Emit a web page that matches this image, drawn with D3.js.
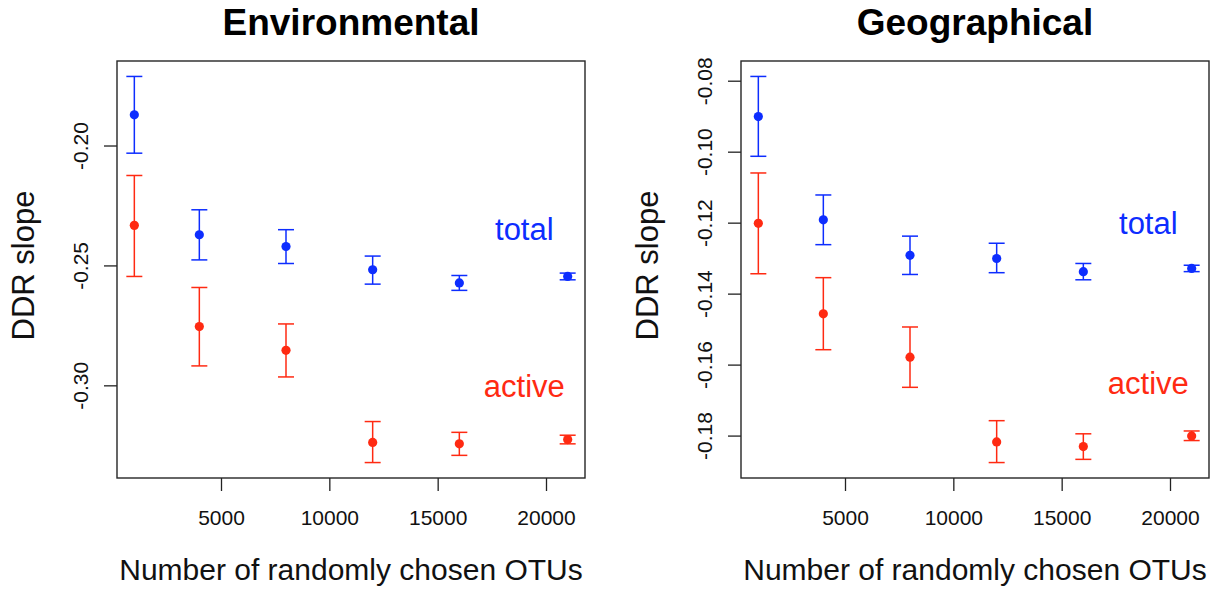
<!DOCTYPE html>
<html>
<head>
<meta charset="utf-8">
<script src="https://cdn.jsdelivr.net/npm/d3@7"></script>
<style>
  body { margin: 0; background: #fff; }
  svg { font-family: "Liberation Sans", Arial, sans-serif; }
</style>
</head>
<body>
<div id="chart"></div>
<script>
// Number of OTUs drawn at random (shared x values)
const otus = [1000, 4000, 8000, 12000, 16000, 21000];

// Environmental panel: mean slope and error bar ends
const envTotalMean = [-0.1872, -0.2372, -0.2421, -0.2518, -0.2573, -0.2546];
const envTotalLow  = [-0.2032, -0.2477, -0.2492, -0.2578, -0.2604, -0.2560];
const envTotalHigh = [-0.1712, -0.2268, -0.2351, -0.2461, -0.2542, -0.2532];
const envActiveMean = [-0.2333, -0.2755, -0.2854, -0.3238, -0.3244, -0.3226];
const envActiveLow  = [-0.2546, -0.2919, -0.2965, -0.3322, -0.3292, -0.3244];
const envActiveHigh = [-0.2125, -0.2592, -0.2744, -0.3151, -0.3196, -0.3208];

// Geographical panel
const geoTotalMean = [-0.0901, -0.1192, -0.1292, -0.1301, -0.1338, -0.1329];
const geoTotalLow  = [-0.1013, -0.1262, -0.1346, -0.1341, -0.1361, -0.1338];
const geoTotalHigh = [-0.0788, -0.1122, -0.1238, -0.1258, -0.1315, -0.1320];
const geoActiveMean = [-0.1202, -0.1457, -0.1579, -0.1818, -0.1831, -0.1801];
const geoActiveLow  = [-0.1344, -0.1558, -0.1664, -0.1876, -0.1867, -0.1814];
const geoActiveHigh = [-0.1060, -0.1355, -0.1494, -0.1758, -0.1795, -0.1787];

// Tick labels
const xTicks = [5000, 10000, 15000, 20000];
const envYTicks = [-0.30, -0.25, -0.20];
const geoYTicks = [-0.18, -0.16, -0.14, -0.12, -0.10, -0.08];

const blue = "#0d2dff";
const red = "#ff2a12";

const width = 1218, height = 590;
const svg = d3.select("#chart").append("svg")
    .attr("width", width)
    .attr("height", height);

// R-style axis range: data extent padded by 4% on each side
function padded(lo, hi) {
    const p = (hi - lo) * 0.04;
    return [lo - p, hi + p];
}

function series(mean, low, high, color) {
    return otus.map((x, i) => ({ x: x, m: mean[i], lo: low[i], hi: high[i], color: color }));
}

const panels = [
    {
        title: "Environmental", left: 117, yTicks: envYTicks,
        data: series(envTotalMean, envTotalLow, envTotalHigh, blue)
            .concat(series(envActiveMean, envActiveLow, envActiveHigh, red)),
        labels: [{ text: "total", x: 19000, y: -0.2350, color: blue },
                 { text: "active", x: 19000, y: -0.3003, color: red }]
    },
    {
        title: "Geographical", left: 741, yTicks: geoYTicks,
        data: series(geoTotalMean, geoTotalLow, geoTotalHigh, blue)
            .concat(series(geoActiveMean, geoActiveLow, geoActiveHigh, red)),
        labels: [{ text: "total", x: 19000, y: -0.1200, color: blue },
                 { text: "active", x: 19000, y: -0.1652, color: red }]
    }
];

const plotW = 468, plotTop = 61, plotH = 417;

panels.forEach(function(p) {
    const g = svg.append("g").attr("transform", `translate(${p.left}, ${plotTop})`);

    const xScale = d3.scaleLinear()
        .domain(padded(d3.min(otus), d3.max(otus)))
        .range([0, plotW]);
    const yScale = d3.scaleLinear()
        .domain(padded(d3.min(p.data, d => d.lo), d3.max(p.data, d => d.hi)))
        .range([plotH, 0]);

    // y axis with rotated tick labels
    const yAxis = g.append("g")
        .call(d3.axisLeft(yScale).tickValues(p.yTicks).tickSize(13).tickFormat(d3.format(".2f")));
    yAxis.select(".domain").remove();
    yAxis.selectAll("line").attr("stroke", "#222").attr("stroke-width", 1.3);
    yAxis.selectAll("text")
        .attr("x", null).attr("dy", null)
        .attr("transform", "translate(-29, 0) rotate(-90)")
        .attr("text-anchor", "middle")
        .attr("font-size", 21)
        .attr("font-family", "Liberation Sans, Arial, sans-serif")
        .attr("fill", "#111")
        .text(d => d3.format(".2f")(d).replace("−", "-"));

    // x axis
    const xAxis = g.append("g")
        .attr("transform", `translate(0, ${plotH})`)
        .call(d3.axisBottom(xScale).tickValues(xTicks).tickSize(13).tickFormat(d3.format("d")));
    xAxis.select(".domain").remove();
    xAxis.selectAll("line").attr("stroke", "#222").attr("stroke-width", 1.3);
    xAxis.selectAll("text")
        .attr("y", 47).attr("dy", null)
        .attr("font-size", 21)
        .attr("font-family", "Liberation Sans, Arial, sans-serif")
        .attr("fill", "#111");

    // plot box
    g.append("rect")
        .attr("width", plotW)
        .attr("height", plotH)
        .attr("fill", "none")
        .attr("stroke", "#262626")
        .attr("stroke-width", 1.4);

    // error bars
    const bars = g.selectAll(".bar")
        .data(p.data)
        .enter().append("g")
        .attr("class", "bar")
        .attr("stroke", d => d.color)
        .attr("stroke-width", 1.5);
    bars.append("line")
        .attr("x1", d => xScale(d.x)).attr("x2", d => xScale(d.x))
        .attr("y1", d => yScale(d.lo)).attr("y2", d => yScale(d.hi));
    bars.append("line")
        .attr("x1", d => xScale(d.x) - 8).attr("x2", d => xScale(d.x) + 8)
        .attr("y1", d => yScale(d.lo)).attr("y2", d => yScale(d.lo));
    bars.append("line")
        .attr("x1", d => xScale(d.x) - 8).attr("x2", d => xScale(d.x) + 8)
        .attr("y1", d => yScale(d.hi)).attr("y2", d => yScale(d.hi));

    // mean points
    g.selectAll(".pt")
        .data(p.data)
        .enter().append("circle")
        .attr("class", "pt")
        .attr("cx", d => xScale(d.x))
        .attr("cy", d => yScale(d.m))
        .attr("r", 4.6)
        .attr("fill", d => d.color);

    // series labels
    g.selectAll(".lab")
        .data(p.labels)
        .enter().append("text")
        .attr("x", d => xScale(d.x))
        .attr("y", d => yScale(d.y))
        .attr("dy", "0.35em")
        .attr("text-anchor", "middle")
        .attr("font-size", 31)
        .attr("fill", d => d.color)
        .text(d => d.text);

    // title and axis titles
    g.append("text")
        .attr("x", plotW / 2)
        .attr("y", 35 - plotTop)
        .attr("text-anchor", "middle")
        .attr("font-size", 37)
        .attr("font-weight", "bold")
        .attr("fill", "#000")
        .text(p.title);

    g.append("text")
        .attr("x", plotW / 2)
        .attr("y", plotH + 102)
        .attr("text-anchor", "middle")
        .attr("font-size", 30)
        .attr("fill", "#111")
        .text("Number of randomly chosen OTUs");

    g.append("text")
        .attr("transform", `translate(-83, ${plotH / 2 - 4}) rotate(-90)`)
        .attr("text-anchor", "middle")
        .attr("font-size", 31)
        .attr("fill", "#111")
        .text("DDR slope");
});
</script>
</body>
</html>
